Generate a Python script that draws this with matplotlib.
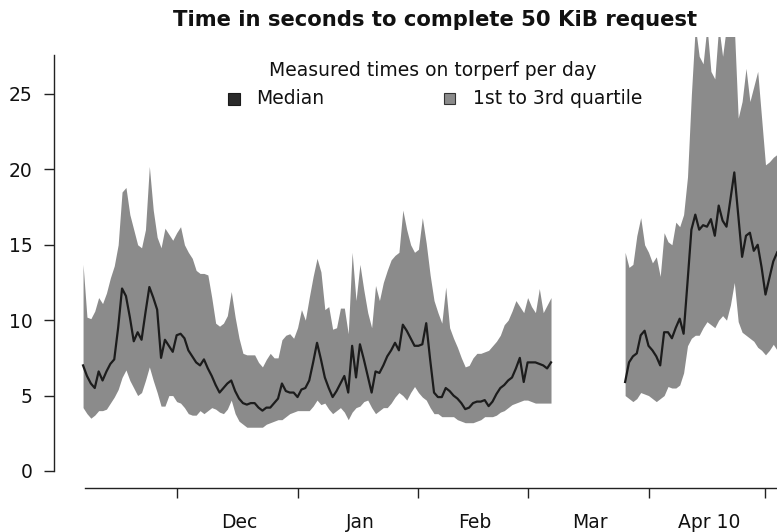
import matplotlib
matplotlib.use("Agg")
import matplotlib.pyplot as plt
import matplotlib.dates as mdates
import numpy as np
import pandas as pd
from matplotlib.patches import Rectangle

# ---------------- data ----------------
seg1_start = "2010-11-07"
seg2_start = "2011-03-26"

median1 = [7.0, 6.3, 5.8, 5.5, 6.6, 6.0, 6.6, 7.1, 7.4, 9.5,
           12.1, 11.6, 10.2, 8.6, 9.2, 8.7, 10.5, 12.2, 11.5, 10.7,
           7.5, 8.7, 8.3, 7.9, 9.0, 9.1, 8.8, 8.0, 7.6, 7.2,
           7.0, 7.4, 6.8, 6.3, 5.7, 5.2, 5.5, 5.8, 6.0, 5.3,
           4.8, 4.5, 4.4, 4.5, 4.5, 4.2, 4.0, 4.2, 4.2, 4.5,
           4.8, 5.8, 5.3, 5.2, 5.2, 4.9, 5.4, 5.5, 6.0, 7.2,
           8.5, 7.4, 6.2, 5.5, 4.9, 5.3, 5.8, 6.3, 5.2, 8.3,
           6.2, 8.4, 7.4, 6.3, 5.2, 6.6, 6.5, 7.0, 7.6, 8.0,
           8.5, 8.0, 9.7, 9.3, 8.8, 8.3, 8.3, 8.4, 9.8, 7.4,
           5.2, 4.9, 4.9, 5.5, 5.3, 5.0, 4.8, 4.5, 4.1, 4.2,
           4.5, 4.6, 4.6, 4.7, 4.3, 4.6, 5.1, 5.5, 5.7, 6.0,
           6.2, 6.8, 7.5, 5.9, 7.2, 7.2, 7.2, 7.1, 7.0, 6.8,
           7.2]
q3_1 = [13.7, 10.2, 10.1, 10.6, 11.5, 11.1, 11.8, 12.8, 13.6, 15.0,
        18.5, 18.8, 17.0, 16.0, 15.0, 14.8, 16.0, 20.2, 17.3, 15.5,
        14.8, 16.1, 15.7, 15.3, 15.8, 16.2, 15.0, 14.5, 14.1, 13.3,
        13.1, 13.1, 13.0, 11.5, 9.8, 9.6, 9.8, 10.3, 11.9, 10.2,
        8.8, 7.8, 7.7, 7.7, 7.7, 7.2, 6.9, 7.4, 7.8, 7.5,
        7.5, 8.7, 9.0, 9.1, 8.8, 9.5, 10.7, 10.0, 11.5, 12.9,
        14.1, 13.2, 10.7, 10.9, 9.4, 9.5, 10.8, 10.8, 9.1, 14.5,
        11.3, 13.7, 12.0, 10.5, 9.5, 12.3, 11.3, 12.5, 13.3, 14.0,
        14.3, 14.5, 17.3, 16.0, 15.0, 14.5, 14.7, 16.8, 15.1, 13.0,
        11.3, 10.5, 9.8, 12.2, 9.5, 8.8, 8.2, 7.5, 6.9, 7.0,
        7.5, 7.8, 7.8, 7.9, 8.0, 8.3, 8.6, 9.0, 9.7, 10.0,
        10.6, 11.3, 10.9, 10.5, 11.5, 10.9, 10.5, 12.1, 10.5, 11.0,
        11.5]
q1_1 = [4.2, 3.8, 3.5, 3.7, 4.0, 4.0, 4.1, 4.5, 4.9, 5.4,
        6.2, 6.7, 6.0, 5.5, 5.0, 5.2, 6.0, 6.9, 6.0, 5.2,
        4.3, 4.3, 5.0, 5.0, 4.6, 4.5, 4.2, 3.8, 3.7, 3.7,
        4.0, 3.8, 4.0, 4.2, 4.1, 3.9, 3.8, 4.1, 4.7, 3.8,
        3.3, 3.1, 2.9, 2.9, 2.9, 2.9, 2.9, 3.1, 3.2, 3.3,
        3.4, 3.4, 3.6, 3.8, 3.9, 4.0, 4.0, 4.0, 4.0, 4.3,
        4.7, 4.4, 4.5, 4.1, 3.8, 4.0, 4.2, 3.9, 3.4, 3.9,
        4.2, 4.3, 4.6, 4.7, 4.2, 3.8, 4.0, 4.2, 4.2, 4.5,
        4.9, 5.2, 5.0, 4.7, 5.2, 5.6, 5.2, 4.9, 4.7, 4.2,
        3.8, 3.8, 3.6, 3.6, 3.6, 3.6, 3.4, 3.3, 3.2, 3.2,
        3.2, 3.3, 3.4, 3.6, 3.6, 3.6, 3.7, 3.9, 4.0, 4.2,
        4.4, 4.5, 4.6, 4.7, 4.7, 4.6, 4.5, 4.5, 4.5, 4.5,
        4.5]

median2 = [5.9, 7.2, 7.6, 7.8, 9.0, 9.3, 8.3, 8.0, 7.6, 7.0,
           9.2, 9.2, 8.8, 9.5, 10.1, 9.1, 12.5, 16.0, 17.0, 16.0,
           16.3, 16.2, 16.7, 15.6, 17.6, 16.6, 16.2, 18.0, 19.8, 17.0,
           14.2, 15.6, 15.8, 14.6, 15.0, 13.5, 11.7, 12.8, 13.9, 14.5]
q3_2 = [14.5, 13.5, 13.7, 15.6, 16.8, 15.0, 14.5, 13.8, 14.2, 12.9,
        15.8, 15.2, 15.0, 16.5, 16.2, 17.0, 19.5, 25.0, 29.5, 27.5,
        27.0, 29.5, 26.5, 26.0, 29.5, 27.5, 29.5, 29.5, 29.5, 23.4,
        24.5, 26.7, 24.5, 25.5, 26.5, 23.4, 20.3, 20.5, 20.8, 21.0]
q1_2 = [5.0, 4.8, 4.6, 4.8, 5.2, 5.1, 5.0, 4.8, 4.6, 4.8,
        5.0, 5.6, 5.5, 5.5, 5.7, 6.5, 8.3, 8.8, 9.0, 9.0,
        9.5, 9.9, 9.7, 9.5, 10.0, 10.3, 10.0, 11.0, 12.5, 9.9,
        9.2, 9.0, 8.8, 8.6, 8.2, 8.0, 7.7, 8.0, 8.4, 8.0]

month_ticks = ["2010-12-01", "2011-01-01", "2011-02-01", "2011-03-01",
               "2011-04-01", "2011-05-01"]
label_dates = ["2010-12-17 00:00", "2011-01-17 00:00", "2011-02-15 12:00",
               "2011-03-17 00:00", "2011-04-16 12:00"]
x_labels = ["Dec", "Jan", "Feb", "Mar", "Apr 10"]
y_ticks = [0, 5, 10, 15, 20, 25]

title = "Time in seconds to complete 50 KiB request"
legend_title = "Measured times on torperf per day"
legend_labels = ["Median", "1st to 3rd quartile"]

# ---------------- figure ----------------
W, H = 777, 532
FS = 13.5
fig = plt.figure(figsize=(W / 100, H / 100), dpi=100)
ax = fig.add_axes([62 / W, (H - 480) / H, (W - 62) / W, (480 - 37) / H])

band_color = "#8b8b8b"
line_color = "#1c1c1c"

dates1 = mdates.date2num(pd.date_range(seg1_start, periods=len(median1), freq="D"))
dates2 = mdates.date2num(pd.date_range(seg2_start, periods=len(median2), freq="D"))

for d, lo, hi, med in [(dates1, q1_1, q3_1, median1),
                       (dates2, q1_2, q3_2, median2)]:
    ax.fill_between(d, lo, hi, color=band_color, linewidth=0)
    ax.plot(d, med, color=line_color, linewidth=1.6)

start = mdates.date2num(pd.Timestamp(seg1_start))
x_left = start - 5.4
x_right = start + 177.95
ax.set_xlim(x_left, x_right)
ax.set_ylim(-0.6, 28.78)

for s in ["top", "right"]:
    ax.spines[s].set_visible(False)
ax.spines["left"].set_position(("outward", 5.8))
ax.spines["bottom"].set_position(("outward", 5.8))
ax.spines["left"].set_bounds(0, 27.6)
ax.spines["bottom"].set_bounds(start + 0.5, x_right)
for s in ["left", "bottom"]:
    ax.spines[s].set_linewidth(1.0)
    ax.spines[s].set_color("#222222")

ax.set_yticks(y_ticks)
ax.set_yticklabels([str(v) for v in y_ticks])
ax.tick_params(axis="y", length=7.2, width=1.0, pad=8.4, labelsize=FS,
               colors="#222222", labelcolor="#111111")

ax.set_xticks(mdates.date2num(pd.to_datetime(month_ticks)))
ax.set_xticklabels([""] * len(month_ticks))
ax.tick_params(axis="x", which="major", length=7.2, width=1.0,
               colors="#222222")
ax.set_xticks(mdates.date2num(pd.to_datetime(label_dates, format="%Y-%m-%d %H:%M")),
              minor=True)
ax.set_xticklabels(x_labels, minor=True)
ax.tick_params(axis="x", which="minor", length=0, pad=18, labelsize=FS,
               labelcolor="#111111")

# title
fig.text(435 / W, 1 - 20 / H, title, ha="center", va="center",
         fontsize=15.2, fontweight="bold", color="#111111")

# legend (drawn manually)
fig.text(433 / W, 1 - 70 / H, legend_title, ha="center", va="center",
         fontsize=FS, color="#111111")
fig.patches.append(Rectangle((228 / W, 1 - 105 / H), 12 / W, 12 / H,
                             transform=fig.transFigure, facecolor="#2a2a2a",
                             edgecolor="#1a1a1a", linewidth=0.8))
fig.text(256 / W, 1 - 98 / H, legend_labels[0], ha="left", va="center",
         fontsize=FS, color="#111111")
fig.patches.append(Rectangle((444 / W, 1 - 104 / H), 11 / W, 11 / H,
                             transform=fig.transFigure, facecolor=band_color,
                             edgecolor="#333333", linewidth=0.8))
fig.text(473 / W, 1 - 98 / H, legend_labels[1], ha="left", va="center",
         fontsize=FS, color="#111111")

fig.savefig("out.png", dpi=100)
